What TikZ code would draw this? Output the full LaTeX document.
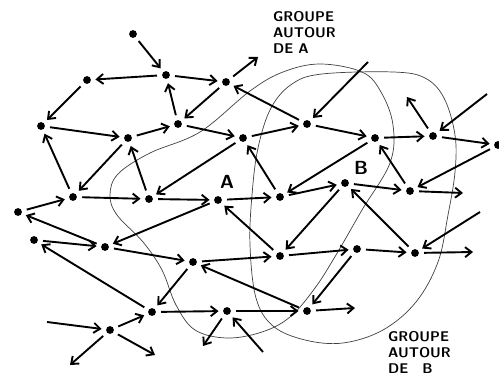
\documentclass[tikz,border=0pt]{standalone}
\usepackage{tikz}
\usetikzlibrary{arrows.meta}

\begin{document}
\begin{tikzpicture}[x=0.5mm,y=-0.5mm,
    dot/.style={circle,fill,inner sep=0pt,minimum size=3.9mm},
    arr/.style={line width=2.7pt,-{Straight Barb[length=3.2mm,width=5mm]},
      shorten <=2.5mm,shorten >=2.2mm},
    blob/.style={line width=1pt,black!75},
    grp/.style={font=\sffamily\bfseries\fontsize{20}{23}\selectfont,align=left,
      anchor=north west,inner sep=0pt},
    big/.style={font=\sffamily\bfseries\fontsize{27}{27}\selectfont,inner sep=0pt}]
  \useasboundingbox (0,0) rectangle (499,392);
  % the two groups
  \draw[blob] plot[smooth cycle,tension=0.6] coordinates {(250,91) (200,132)
    (150,153) (118,174) (110,195) (117,215) (143,242) (162,270) (176,305)
    (195,330) (227,338) (262,332) (290,317) (315,288) (336,255) (362,210)
    (390,163) (393,125) (381,92) (362,72) (320,64) (283,72)};
  \draw[blob] plot[smooth cycle,tension=0.6] coordinates {(250,245) (252,195)
    (258,148) (271,108) (292,84) (322,74) (393,72) (425,78) (444,98)
    (455,135) (455,172) (448,215) (438,262) (416,302) (383,330) (343,343)
    (305,340) (273,326) (256,298)};
  % points
  \node[dot] (p1) at (133,34) {};
  \node[dot] (p2) at (166,75) {};
  \node[dot] (p3) at (87,80) {};
  \node[dot] (p4) at (41,126) {};
  \node[dot] (p5) at (128,138) {};
  \node[dot] (p6) at (178,124) {};
  \node[dot] (p7) at (226,82) {};
  \node[dot] (p8) at (243,138) {};
  \node[dot] (p9) at (73,197) {};
  \node[dot] (p10) at (149,199) {};
  \node[dot] (a) at (218,200) {};
  \node[dot] (p11) at (18,212) {};
  \node[dot] (p12) at (34,240) {};
  \node[dot] (p13) at (105,247) {};
  \node[dot] (p14) at (193,262) {};
  \node[dot] (p15) at (152,312) {};
  \node[dot] (p16) at (110,330) {};
  \node[dot] (p17) at (227,311) {};
  \node[dot] (p18) at (307,311) {};
  \node[dot] (p19) at (280,256) {};
  \node[dot] (p20) at (280,197) {};
  \node[dot] (p21) at (307,124) {};
  \node[dot] (p22) at (375,138) {};
  \node[dot] (p23) at (433,136) {};
  \node[dot] (p24) at (498,145) {};
  \node[dot] (b) at (345,183) {};
  \node[dot] (p25) at (410,191) {};
  \node[dot] (p26) at (415,253) {};
  \node[dot] (p27) at (357,249) {};
  % loose ends
  \coordinate (e1) at (258,57);
  \coordinate (e2) at (368,62);
  \coordinate (e3) at (407,97);
  \coordinate (e4) at (487,94);
  \coordinate (e5) at (463,193);
  \coordinate (e6) at (47,322);
  \coordinate (e7) at (70,365);
  \coordinate (e8) at (155,355);
  \coordinate (e9) at (203,346);
  \coordinate (e10) at (263,352);
  \coordinate (e11) at (355,308);
  \coordinate (e12) at (480,212);
  \coordinate (e13) at (473,252);
  % links
  \draw[arr] (p1) -- (p2);
  \draw[arr] (p2) -- (p3);
  \draw[arr] (p2) -- (p7);
  \draw[arr] (p3) -- (p4);
  \draw[arr] (p4) -- (p5);
  \draw[arr] (p5) -- (p6);
  \draw[arr] (p6) -- (p2);
  \draw[arr] (p7) -- (p6);
  \draw[arr] (p6) -- (p8);
  \draw[arr] (p9) -- (p4);
  \draw[arr] (p5) -- (p9);
  \draw[arr] (p10) -- (p5);
  \draw[arr] (p8) -- (p10);
  \draw[arr,shorten >=0pt] (p7) -- (e1);
  \draw[arr] (p21) -- (p7);
  \draw[arr,shorten <=0pt] (e2) -- (p21);
  \draw[arr] (p21) -- (p22);
  \draw[arr] (p8) -- (p21);
  \draw[arr] (p22) -- (p23);
  \draw[arr,shorten >=0pt] (p23) -- (e3);
  \draw[arr,shorten <=0pt] (e4) -- (p23);
  \draw[arr] (p23) -- (p24);
  \draw[arr] (p24) -- (p25);
  \draw[arr] (p22) -- (p20);
  \draw[arr] (p20) -- (b);
  \draw[arr] (b) -- (p25);
  \draw[arr] (p25) -- (p22);
  \draw[arr,shorten >=0pt] (p25) -- (e5);
  \draw[arr] (p10) -- (a);
  \draw[arr] (a) -- (p20);
  \draw[arr] (p20) -- (p8);
  \draw[arr] (b) -- (p19);
  \draw[arr] (p19) -- (a);
  \draw[arr] (p19) -- (p27);
  \draw[arr] (a) -- (p13);
  \draw[arr] (p14) -- (p19);
  \draw[arr] (p11) -- (p9);
  \draw[arr] (p9) -- (p10);
  \draw[arr] (p13) -- (p11);
  \draw[arr] (p12) -- (p13);
  \draw[arr] (p13) -- (p14);
  \draw[arr] (p15) -- (p12);
  \draw[arr] (p14) -- (p15);
  \draw[arr] (p16) -- (p15);
  \draw[arr,shorten <=0pt] (e6) -- (p16);
  \draw[arr,shorten >=0pt] (p16) -- (e7);
  \draw[arr,shorten >=0pt] (p16) -- (e8);
  \draw[arr] (p15) -- (p17);
  \draw[arr,shorten >=0pt] (p17) -- (e9);
  \draw[arr,shorten <=0pt] (e10) -- (p17);
  \draw[arr] (p17) -- (p18);
  \draw[arr] (p18) -- (p14);
  \draw[arr,shorten >=0pt] (p18) -- (e11);
  \draw[arr] (p26) -- (b);
  \draw[arr,shorten <=0pt] (e12) -- (p26);
  \draw[arr,shorten >=0pt] (p26) -- (e13);
  \draw[arr] (p27) -- (p26);
  \draw[arr] (p27) -- (p18);
  % labels
  \node[big] (la) at (227,182) {A};
  \node[big] (lb) at (361,168) {B};
  \node[grp] (ga) at (273,11) {GROUPE\\AUTOUR\\DE A};
  \node[grp] (gb) at (388,331) {GROUPE\\AUTOUR\\DE\quad B};
\end{tikzpicture}
\end{document}
